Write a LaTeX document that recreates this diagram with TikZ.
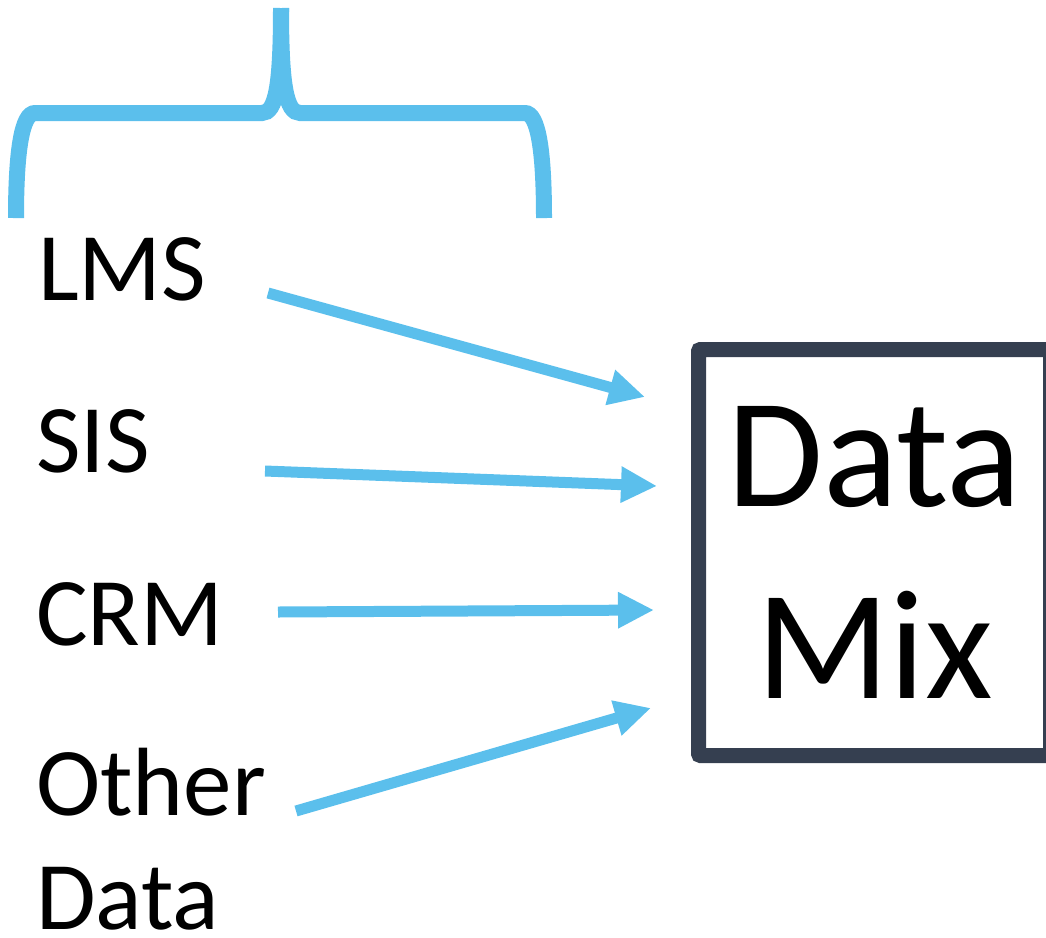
\documentclass[tikz,border=0pt]{standalone}
\usepackage{fontspec}
\setmainfont{Carlito}
\usetikzlibrary{arrows.meta}

\definecolor{skyblue}{RGB}{91,191,236}
\definecolor{slate}{RGB}{53,63,80}

\begin{document}
\begin{tikzpicture}[x=1pt, y=-1pt]
	\useasboundingbox (0,0) rectangle (1046,937);
	\begin{scope}
		\tikzstyle{every node}=[inner sep=0pt, anchor=base west]
		\tikzstyle{source}=[font=\fontsize{97}{114}\selectfont, align=left]
		\tikzstyle{flow}=[skyblue, line width=11pt, -{Triangle[length=36pt, width=34pt]}]
		\tikzstyle{brace}=[skyblue, line width=16pt]

		\node[source] (lms)   at (38, 300) {LMS};
		\node[source] (sis)   at (36, 472) {SIS};
		\node[source] (crm)   at (36, 645) {CRM};
		\node[source] (other) at (36, 929) {Other\\Data};

		\node[draw=slate, line width=15pt, rounded corners=2pt, anchor=center,
		      minimum width=352pt, minimum height=406pt, align=center,
		      font=\fontsize{156}{192}\selectfont] (mix) at (874.5, 552.5) {Data\\Mix};

		\coordinate (lms-out)   at (268, 293);
		\coordinate (sis-out)   at (265, 471);
		\coordinate (crm-out)   at (278, 612);
		\coordinate (other-out) at (296, 811);

		\coordinate (lms-in)   at (645, 397);
		\coordinate (sis-in)   at (657, 486);
		\coordinate (crm-in)   at (654, 610);
		\coordinate (other-in) at (651, 708);

		\coordinate (tip) at (281, 8);

		% brace over the sources
		\draw [brace] (16, 218) .. controls (16, 150) and (22, 113) .. (35, 113) -- (262, 113)
			.. controls (276, 113) and (281, 85) .. (tip);
		\draw [brace] (544, 218) .. controls (544, 150) and (538, 113) .. (525, 113) -- (300, 113)
			.. controls (286, 113) and (281, 85) .. (tip);

		\draw [flow] (lms-out) to (lms-in);
		\draw [flow] (sis-out) to (sis-in);
		\draw [flow] (crm-out) to (crm-in);
		\draw [flow] (other-out) to (other-in);
	\end{scope}
\end{tikzpicture}
\end{document}
